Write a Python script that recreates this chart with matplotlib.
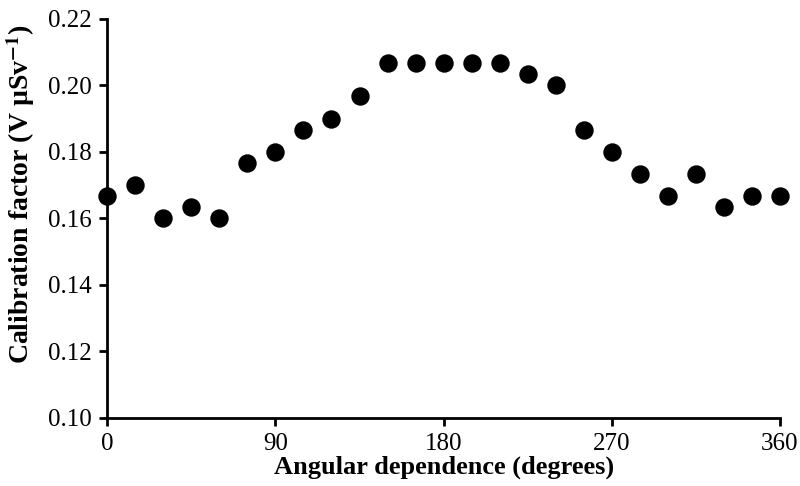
import numpy as np
import matplotlib
matplotlib.use("Agg")
from matplotlib import pyplot as plt

# angulos e fatores de calibracao
angulos = [0, 15, 30, 45, 60, 75, 90, 105, 120, 135, 150, 165, 180,
           195, 210, 225, 240, 255, 270, 285, 300, 315, 330, 345, 360]
fatores = [0.1667, 0.1700, 0.1600, 0.1633, 0.1600, 0.1767, 0.1800, 0.1867,
           0.1900, 0.1967, 0.2067, 0.2067, 0.2067, 0.2067, 0.2067, 0.2033,
           0.2000, 0.1867, 0.1800, 0.1733, 0.1667, 0.1733, 0.1633, 0.1667,
           0.1667]
xticks = [0, 90, 180, 270, 360]
yticks = [0.10, 0.12, 0.14, 0.16, 0.18, 0.20, 0.22]

plt.rcParams['font.family'] = ['Liberation Serif', 'DejaVu Serif']
plt.rcParams['mathtext.fontset'] = 'stix'

fig = plt.figure(figsize=(8, 4.86), dpi=100)
ax = fig.add_axes([0.134, 0.140, 0.841, 0.821])

ax.scatter(angulos, fatores, s=150, color='black', zorder=3, clip_on=False)

ax.set_xlim(0, 360)
ax.set_ylim(0.10, 0.22)
ax.set_xticks(xticks)
ax.set_yticks(yticks)
ax.set_yticklabels([f"{v:.2f}" for v in yticks])

for lado in ['top', 'right']:
    ax.spines[lado].set_visible(False)
for lado in ['left', 'bottom']:
    ax.spines[lado].set_linewidth(2)
ax.tick_params(axis='both', direction='out', width=2, length=6,
               labelsize=18, pad=5)

ax.set_xlabel("Angular dependence (degrees)", fontsize=19,
              fontweight='bold', labelpad=0)
ax.set_ylabel(r"Calibration factor (V µSv$^{\mathbf{-1}}$)", fontsize=20,
              fontweight='bold')
ax.yaxis.set_label_coords(-0.105, 0.56)

fig.savefig("out.png", dpi=100)
